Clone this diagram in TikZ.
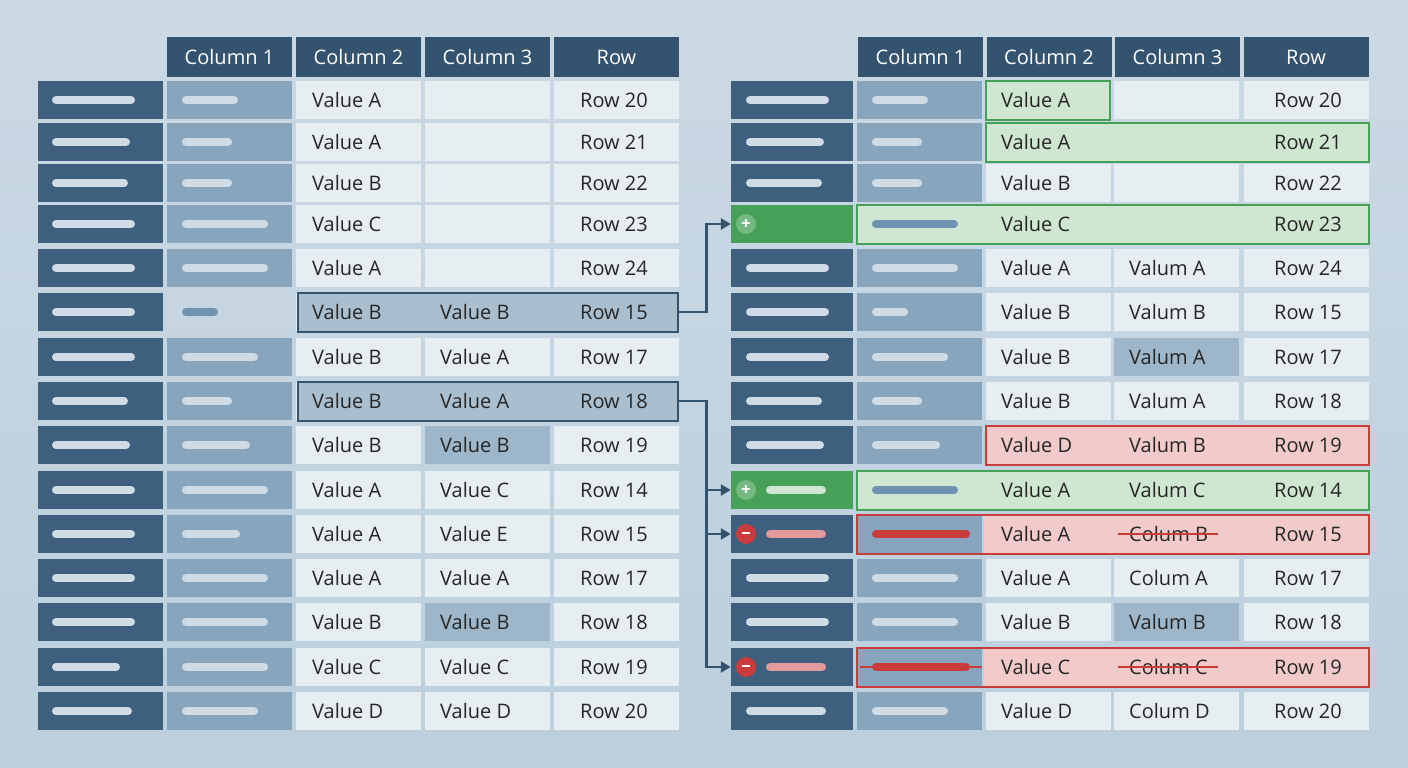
\documentclass[tikz,border=0pt]{standalone}
\usepackage{fontspec}
\setmainfont{Open Sans}
\usetikzlibrary{arrows.meta}
\definecolor{bgtop}{HTML}{CBD9E4}
\definecolor{bgbot}{HTML}{BCCFDD}
\definecolor{hdark}{HTML}{34536F}
\definecolor{rdark}{HTML}{3E5F7E}
\definecolor{cmid}{HTML}{87A6BE}
\definecolor{cpale}{HTML}{C6D5E0}
\definecolor{clight}{HTML}{E7EEF2}
\definecolor{cshade}{HTML}{9DB6C9}
\definecolor{csel}{HTML}{A9BFD0}
\definecolor{barlight}{HTML}{CFDCE6}
\definecolor{barmid}{HTML}{6F92B0}
\definecolor{gdark}{HTML}{46A058}
\definecolor{glight}{HTML}{CFE6D0}
\definecolor{rline}{HTML}{C83C3C}
\definecolor{rlight}{HTML}{F2CACA}
\definecolor{rbar}{HTML}{E39A9A}
\def\rowy#1{\pgfmathsetmacro\y{{100,142,183,224,268,312,357,401,445,490,534,578,622,667,711}[#1]}}

\begin{document}
\begin{tikzpicture}[x=1pt, y=-1pt]
    \tikzstyle{cell} = [rectangle, inner sep=0pt, minimum width=125pt, minimum height=38pt]
    \tikzstyle{head} = [cell, minimum height=40pt, fill=hdark, text=white, font=\fontsize{20}{24}\selectfont]
    \tikzstyle{txt} = [inner sep=0pt, anchor=west, font=\fontsize{20}{24}\selectfont, text=black!85]
    \tikzstyle{bar} = [line width=8pt, line cap=round]
    \tikzstyle{selbox} = [rectangle, draw=hdark, line width=2pt, inner sep=0pt, minimum height=39pt]
    \tikzstyle{gbox} = [rectangle, draw=gdark, line width=2pt, fill=glight, inner sep=0pt, minimum height=39pt]
    \tikzstyle{rbox} = [rectangle, draw=rline, line width=2pt, inner sep=0pt, minimum height=39pt]
    \tikzstyle{conn} = [draw=hdark, line width=2.5pt, -{Triangle[length=10pt, width=11pt]}]
    \tikzstyle{sign} = [circle, inner sep=0pt, minimum size=20pt, text=white, font=\bfseries\fontsize{17}{17}\selectfont]

    % Background
    \shade[top color=bgtop, bottom color=bgbot] (0,0) rectangle (1408,768);

    % Headers
    \foreach \t [count=\c] in {Column 1, Column 2, Column 3, Row} {
        \pgfmathsetmacro\xl{100.5+129*\c}
        \pgfmathsetmacro\xr{792+128.5*\c}
        \node[head] (LH\c) at (\xl, 57) {\t};
        \node[head] (RH\c) at (\xr, 57) {\t};
    }

    % Left table
    \foreach \i/\a/\b/\r/\ba/\bb in {0/Value A//20/75/48, 1/Value A//21/70/42, 2/Value B//22/68/42,
        3/Value C//23/75/78, 4/Value A//24/75/78, 5/Value B/Value B/15/75/28, 6/Value B/Value A/17/75/68,
        7/Value B/Value A/18/68/42, 8/Value B/Value B/19/70/60, 9/Value A/Value C/14/75/78,
        10/Value A/Value E/15/75/50, 11/Value A/Value A/17/75/78, 12/Value B/Value B/18/75/78,
        13/Value C/Value C/19/60/78, 14/Value D/Value D/20/72/68} {
        \rowy{\i}
        \node[cell, fill=rdark] (L\i-0) at (100.5,\y) {};
        \node[cell, fill=cmid] (L\i-1) at (229.5,\y) {};
        \node[cell, fill=clight] (L\i-2) at (358.5,\y) {};
        \node[cell, fill=clight] (L\i-3) at (487.5,\y) {};
        \node[cell, fill=clight] (L\i-4) at (616.5,\y) {};
        \draw[bar, barlight] (56,\y) -- ++(\ba,0);
        \draw[bar, barlight] (186,\y) -- ++(\bb,0);
        \node[txt] at (312,\y) {\a};
        \node[txt] at (440,\y) {\b};
        \node[txt] at (580,\y) {Row \r};
    }
    % Left selections
    \node[cell, fill=cpale] (L5-1x) at (229.5,312) {};
    \draw[bar, barmid] (186,312) -- ++(28,0);
    \node[cell, fill=cshade] (L8-3x) at (487.5,445) {};
    \node[txt] at (440,445) {Value B};
    \node[cell, fill=cshade] (L12-3x) at (487.5,622) {};
    \node[txt] at (440,622) {Value B};
    \foreach \i/\b/\r in {5/Value B/15, 7/Value A/18} {
        \rowy{\i}
        \node[selbox, fill=csel, minimum width=380pt] (Lsel\i) at (487.5,\y) {};
        \node[txt] at (312,\y) {Value B};
        \node[txt] at (440,\y) {\b};
        \node[txt] at (580,\y) {Row \r};
    }

    % Right table
    \foreach \i/\ba/\bb in {0/75/48, 1/70/42, 2/68/42, 3/75/78, 4/75/78, 5/75/28, 6/75/68,
        7/68/42, 8/70/60, 9/75/78, 10/75/50, 11/75/78, 12/75/78, 13/60/78, 14/72/68} {
        \rowy{\i}
        \node[cell, fill=rdark, minimum width=122pt] (R\i-0) at (792,\y) {};
        \node[cell, fill=cmid] (R\i-1) at (919.5,\y) {};
        \node[cell, fill=clight] (R\i-2) at (1048,\y) {};
        \node[cell, fill=clight] (R\i-3) at (1176.5,\y) {};
        \node[cell, fill=clight] (R\i-4) at (1306,\y) {};
        \draw[bar, barlight] (750,\y) -- ++(\ba,0);
        \draw[bar, barlight] (876,\y) -- ++(\bb,0);
    }
    % Right shaded cells
    \node[cell, fill=cshade] at (1176.5,357) {};
    \node[cell, fill=cshade] at (1176.5,622) {};

    % Right green rows
    \node[gbox, minimum width=124pt] (Rg0) at (1048,100) {};
    \node[gbox, minimum width=383pt] (Rg1) at (1177.5,142) {};
    \foreach \i in {3,9} {
        \rowy{\i}
        \node[cell, fill=gdark, minimum width=122pt] (R\i-0g) at (792,\y) {};
        \node[gbox, minimum width=512pt] (Rg\i) at (1113,\y) {};
        \draw[bar, barmid] (876,\y) -- ++(78,0);
        \node[sign, fill=white!25!gdark] (Rp\i) at (746,\y) {+};
    }
    \draw[bar, glight] (770,490) -- ++(52,0);

    % Right red rows
    \node[rbox, fill=rlight, minimum width=383pt] (Rr8) at (1177.5,445) {};
    \foreach \i in {10,13} {
        \rowy{\i}
        \node[cell, fill=rdark, minimum width=122pt] (R\i-0r) at (792,\y) {};
        \node[cell, fill=cmid] at (919.5,\y) {};
        \fill[rlight] (984,\y-19) rectangle (1369,\y+19);
        \node[rbox, minimum width=512pt] (Rr\i) at (1113,\y) {};
        \draw[bar, rline] (876,\y) -- ++(90,0);
        \draw[bar, rbar] (770,\y) -- ++(52,0);
        \node[sign, fill=rline] (Rm\i) at (746,\y) {\rule[0.3ex]{8pt}{2.2pt}};
    }
    \draw[rline, line width=1.2pt] (860,667) -- (982,667);

    % Right texts
    \foreach \i/\a/\b/\r in {0/Value A//20, 1/Value A//21, 2/Value B//22, 3/Value C//23,
        4/Value A/Valum A/24, 5/Value B/Valum B/15, 6/Value B/Valum A/17, 7/Value B/Valum A/18,
        8/Value D/Valum B/19, 9/Value A/Valum C/14, 10/Value A/Colum B/15, 11/Value A/Colum A/17,
        12/Value B/Valum B/18, 13/Value C/Colum C/19, 14/Value D/Colum D/20} {
        \rowy{\i}
        \node[txt] at (1001,\y) {\a};
        \node[txt] at (1129,\y) {\b};
        \node[txt] at (1274,\y) {Row \r};
    }
    % Strike-through
    \draw[rline, line width=1.5pt] (1118,534) -- (1218,534);
    \draw[rline, line width=1.5pt] (1118,667) -- (1218,667);

    % Connectors
    \draw[conn] (Lsel5.east) -- ++(28,0) |- (R3-0g.west);
    \draw[conn] (Lsel7.east) -- ++(28,0) coordinate (split) |- (R13-0r.west);
    \draw[conn] (split |- R9-0g.west) -- (R9-0g.west);
    \draw[conn] (split |- R10-0r.west) -- (R10-0r.west);
\end{tikzpicture}
\end{document}
